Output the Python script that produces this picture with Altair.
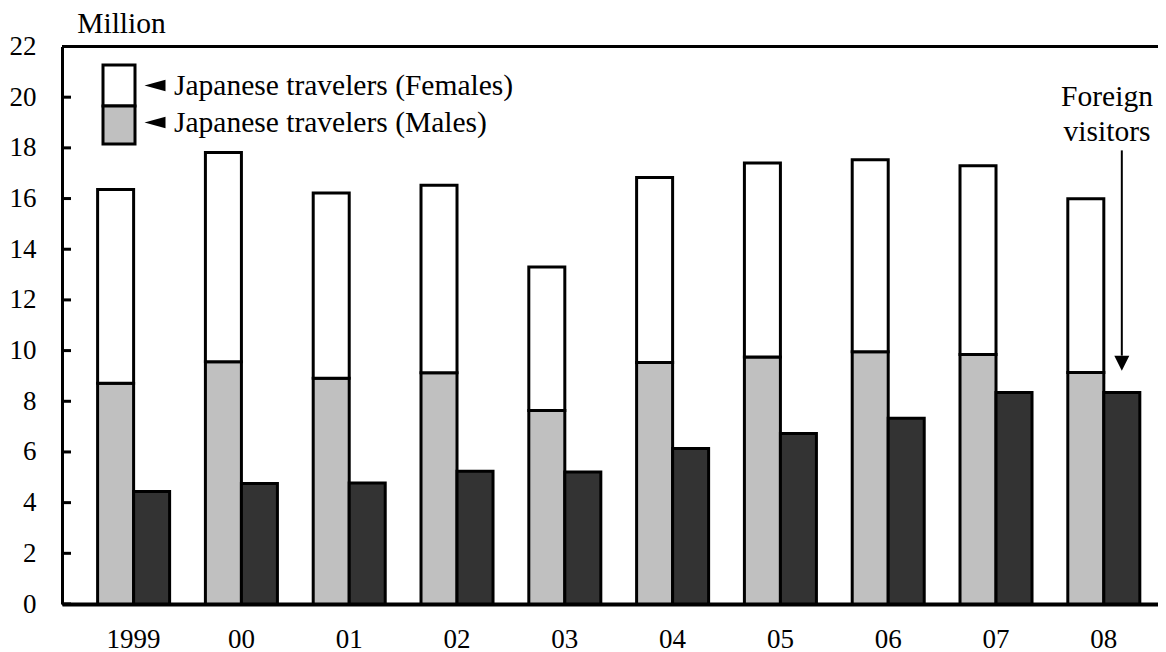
import altair as alt
import pandas as pd

years = ["1999", "00", "01", "02", "03", "04", "05", "06", "07", "08"]
males = [8.71, 9.56, 8.91, 9.13, 7.64, 9.53, 9.75, 9.95, 9.85, 9.14]
totals = [16.36, 17.82, 16.22, 16.52, 13.30, 16.83, 17.40, 17.53, 17.29, 15.99]
females = [round(t - m, 2) for t, m in zip(totals, males)]
foreign = [4.44, 4.76, 4.77, 5.24, 5.21, 6.14, 6.73, 7.33, 8.35, 8.35]
y_ticks = list(range(0, 23, 2))

legend_labels = ["Japanese travelers (Females)", "Japanese travelers (Males)"]
annot_lines = ["Foreign", "visitors"]

FONT = "Times New Roman, Liberation Serif, serif"
FS = 27
TFS = 29.5
W = 1096
H = 557.5

rows = []
for yr, m, f, fv in zip(years, males, females, foreign):
    rows.append({"year": yr, "grp": "Japan", "seg": "Males", "y0": 0.0, "y1": m})
    rows.append({"year": yr, "grp": "Japan", "seg": "Females", "y0": m, "y1": round(m + f, 2)})
    rows.append({"year": yr, "grp": "Foreign", "seg": "Foreign", "y0": 0.0, "y1": fv})
df = pd.DataFrame(rows)

xenc = alt.X("year:N", sort=years,
             scale=alt.Scale(paddingInner=0.332, paddingOuter=0.2495, align=0.662),
             axis=alt.Axis(title=None, ticks=False, labelAngle=0, labelPadding=22,
                           domainWidth=4, domainColor="black", labelFont=FONT,
                           labelFontSize=FS, labelColor="black"))
yscale = alt.Scale(domain=[0, 22], nice=False, zero=True)

bars = alt.Chart(df).mark_bar(stroke="black", strokeWidth=3).encode(
    x=xenc,
    xOffset=alt.XOffset("grp:N", sort=["Japan", "Foreign"],
                        scale=alt.Scale(paddingInner=0, paddingOuter=0)),
    y=alt.Y("y0:Q", scale=yscale,
            axis=alt.Axis(values=y_ticks, ticks=False, grid=False, labelPadding=26,
                          domainWidth=3, domainColor="black", labelFont=FONT,
                          labelFontSize=FS, labelColor="black",
                          title="Million", titleAngle=0, titleX=59, titleY=-23,
                          titleAlign="center", titleBaseline="middle", titleFont=FONT,
                          titleFontSize=TFS, titleFontWeight="normal", titleColor="black")),
    y2="y1:Q",
    color=alt.Color("seg:N", scale=alt.Scale(domain=["Males", "Females", "Foreign"],
                                             range=["#c0c0c0", "#ffffff", "#333333"]),
                    legend=None),
)

tick_df = pd.DataFrame({"y0": y_ticks})
ticks = alt.Chart(tick_df).mark_rule(color="black", strokeWidth=3).encode(
    x=alt.value(0), x2=alt.value(9), y=alt.Y("y0:Q", scale=yscale)
)

top_line = alt.Chart(pd.DataFrame({"a": [0]})).mark_rule(color="black", strokeWidth=3).encode(
    x=alt.value(0), x2=alt.value(W), y=alt.datum(22)
)

one = pd.DataFrame({"a": [0]})
leg_white = alt.Chart(one).mark_rect(fill="white", stroke="black", strokeWidth=3).encode(
    x=alt.value(41), x2=alt.value(73), y=alt.value(18.5), y2=alt.value(59.5))
leg_gray = alt.Chart(one).mark_rect(fill="#c0c0c0", stroke="black", strokeWidth=3).encode(
    x=alt.value(41), x2=alt.value(73), y=alt.value(59.5), y2=alt.value(97.5))

leg_df = pd.DataFrame({"label": legend_labels, "py": [39, 76]})
tri_left = "M 1 -0.55 L -1 0 L 1 0.55 Z"
leg_tri = alt.Chart(leg_df).mark_point(shape=tri_left, filled=True, color="black",
                                       size=440, opacity=1).encode(
    x=alt.value(93), y=alt.Y("py:Q", scale=None))
leg_text = alt.Chart(leg_df).mark_text(font=FONT, fontSize=TFS, align="left",
                                       baseline="middle", color="black").encode(
    x=alt.value(112), y=alt.Y("py:Q", scale=None), text="label:N")

ann_df = pd.DataFrame({"line": annot_lines, "py": [50.5, 85.5]})
ann_text = alt.Chart(ann_df).mark_text(font=FONT, fontSize=TFS, align="center",
                                       baseline="middle", color="black").encode(
    x=alt.value(1045), y=alt.Y("py:Q", scale=None), text="line:N")

arrow_df = pd.DataFrame({"year": ["08"], "grp": ["Foreign"], "top": [17.9], "bot": [9.8]})
arrow_line = alt.Chart(arrow_df).mark_rule(color="black", strokeWidth=2).encode(
    x=alt.X("year:N", sort=years), xOffset=alt.XOffset("grp:N", sort=["Japan", "Foreign"]),
    y=alt.Y("top:Q", scale=yscale), y2="bot:Q")
tri_down = "M -1 -1 L 1 -1 L 0 1 Z"
head_df = pd.DataFrame({"year": ["08"], "grp": ["Foreign"], "hy": [9.5]})
arrow_head = alt.Chart(head_df).mark_point(shape=tri_down, filled=True, color="black",
                                           size=225, opacity=1).encode(
    x=alt.X("year:N", sort=years), xOffset=alt.XOffset("grp:N", sort=["Japan", "Foreign"]),
    y=alt.Y("hy:Q", scale=yscale))

chart = alt.layer(bars, ticks, top_line, leg_white, leg_gray, leg_tri, leg_text,
                  ann_text, arrow_line, arrow_head).properties(
    width=W, height=H,
    padding={"left": 54, "top": 38.5, "right": 0, "bottom": 48},
    autosize=alt.AutoSizeParams(type="none"),
).configure_view(stroke=None).configure(background="white")

chart.save("out.html", embed_options={"renderer": "svg", "actions": False})
